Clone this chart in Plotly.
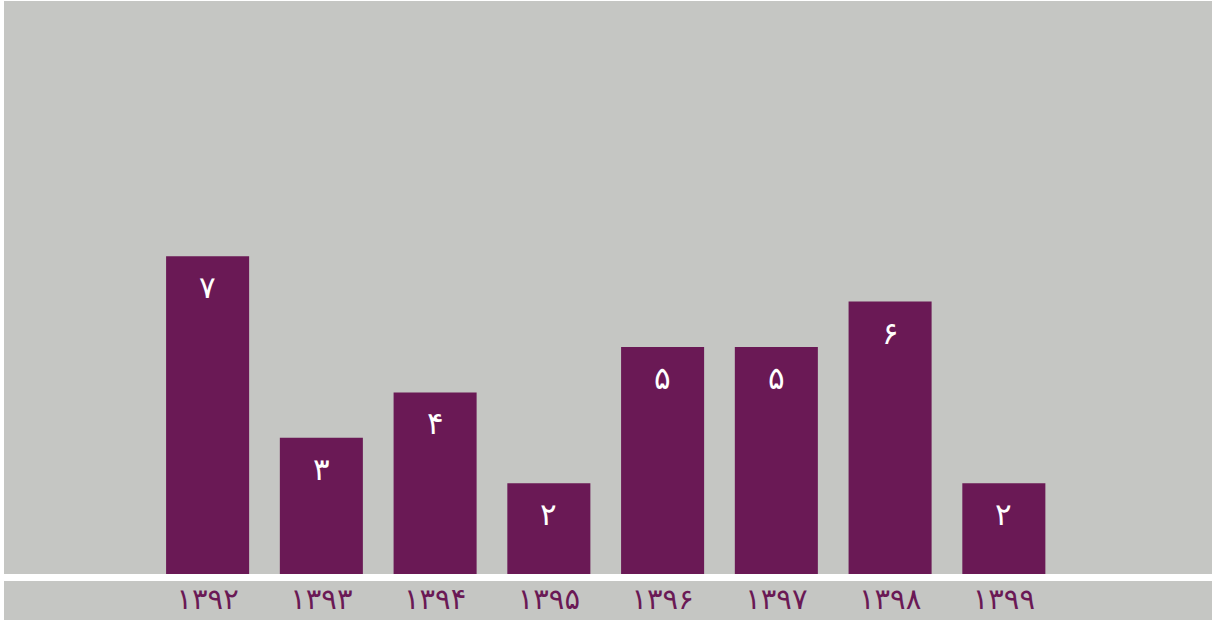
import plotly.graph_objects as go

years = ["۱۳۹۲", "۱۳۹۳", "۱۳۹۴", "۱۳۹۵", "۱۳۹۶", "۱۳۹۷", "۱۳۹۸", "۱۳۹۹"]
values = [7, 3, 4, 2, 5, 5, 6, 2]
value_labels = ["۷", "۳", "۴", "۲", "۵", "۵", "۶", "۲"]

purple = "#6a1955"
gray = "#c5c6c3"

xs = list(range(len(years)))

fig = go.Figure(go.Bar(
    x=xs, y=values,
    marker=dict(color=purple, line=dict(width=0)),
    width=0.73, hoverinfo="skip"))

annotations = [
    dict(x=x, y=v, text=t, xref="x", yref="y", yanchor="top", yshift=-11,
         showarrow=False, font=dict(color="white", size=31, family="DejaVu Sans"))
    for x, v, t in zip(xs, values, value_labels)
]

fig.update_layout(
    width=1212, height=620,
    margin=dict(l=4, r=0, t=1, b=46),
    paper_bgcolor="white", plot_bgcolor=gray,
    showlegend=False,
    annotations=annotations,
    shapes=[dict(type="rect", xref="paper", yref="paper", x0=0, x1=1,
                 y0=-46/573, y1=-7/573, fillcolor=gray, line=dict(width=0), layer="below")],
    xaxis=dict(range=[-1.79, 8.83], tickmode="array", tickvals=xs,
               ticktext=years, showgrid=False, zeroline=False, showline=False,
               ticks="", ticklabelstandoff=5,
               tickfont=dict(color=purple, size=29, family="DejaVu Sans")),
    yaxis=dict(range=[0, 12.62], visible=False, showgrid=False, zeroline=False),
)

fig.write_html("out.html", config={"displayModeBar": False},
               post_script="document.body.style.margin='0';")
